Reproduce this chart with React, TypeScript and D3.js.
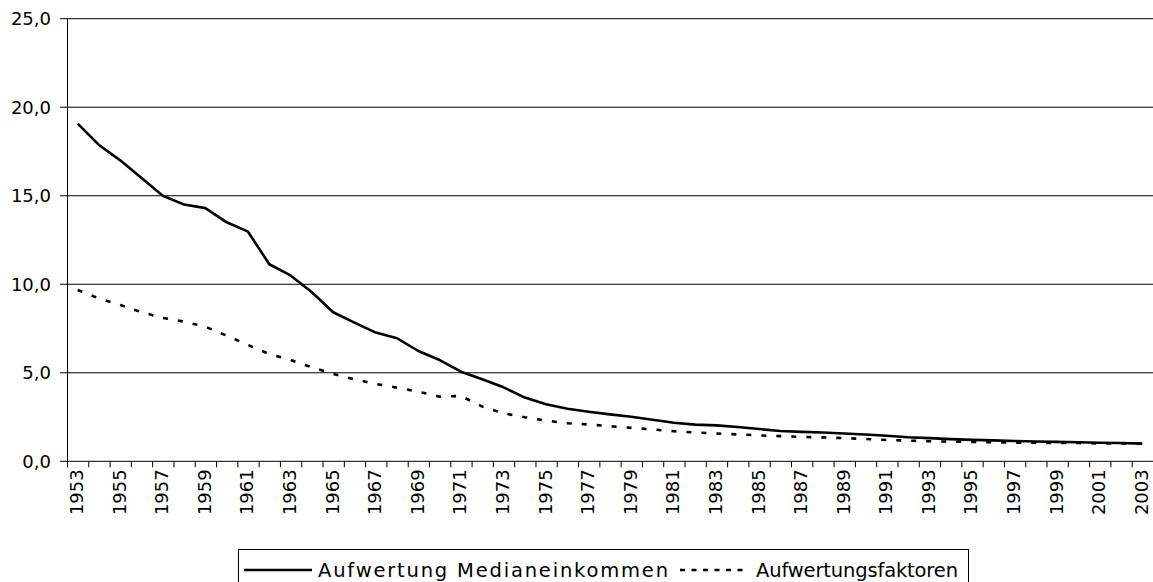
import React from "react";
import * as d3 from "d3";

const years: number[] = [];
for (let y = 1953; y <= 2003; y++) years.push(y);

const medianValues = [
  19.07, 17.87, 17.0, 16.0, 15.0, 14.5, 14.3, 13.5, 12.97, 11.13,
  10.5, 9.55, 8.42, 7.83, 7.27, 6.95, 6.23, 5.72, 5.06, 4.63,
  4.18, 3.6, 3.22, 2.97, 2.8, 2.65, 2.52, 2.35, 2.18, 2.07,
  2.03, 1.94, 1.82, 1.71, 1.66, 1.63, 1.57, 1.51, 1.44, 1.36,
  1.31, 1.25, 1.21, 1.18, 1.15, 1.12, 1.1, 1.08, 1.05, 1.03,
  1.0,
];

const faktorValues = [
  9.68, 9.2, 8.83, 8.42, 8.1, 7.89, 7.6, 7.1, 6.57, 6.06,
  5.72, 5.31, 4.93, 4.63, 4.37, 4.16, 3.93, 3.65, 3.69, 3.09,
  2.71, 2.49, 2.3, 2.15, 2.08, 1.98, 1.89, 1.8, 1.7, 1.63,
  1.57, 1.52, 1.46, 1.42, 1.38, 1.35, 1.31, 1.26, 1.2, 1.17,
  1.13, 1.11, 1.09, 1.07, 1.05, 1.05, 1.03, 1.03, 1.01, 1.01,
  1.0,
];

const yTicks = [0, 5, 10, 15, 20, 25];
const legendLabels = ["Aufwertung Medianeinkommen", "Aufwertungsfaktoren"];

const W = 1153;
const H = 582;
const FONT = "'DejaVu Sans', sans-serif";

export default function App() {
  const left = 67;
  const right = 1153;
  const top = 18.7;
  const bottom = 461.3;

  const x = d3
    .scaleBand<number>()
    .domain(years)
    .range([left, right])
    .paddingInner(0)
    .paddingOuter(0);
  const y = d3.scaleLinear().domain([0, 25]).range([bottom, top]);
  const cx = (yr: number) => (x(yr) as number) + x.bandwidth() / 2;

  const line = d3
    .line<number>()
    .x((_, i) => cx(years[i]))
    .y((d) => y(d));

  const fmt = (v: number) => v.toFixed(1).replace(".", ",");

  return (
    <svg
      width={W}
      height={H}
      style={{ position: "absolute", left: 0, top: 0, background: "#fff" }}
      fontFamily={FONT}
    >
      <rect x={0} y={0} width={W} height={H} fill="#fff" />
      {yTicks.map((t) => (
        <g key={t}>
          <line x1={60} x2={right} y1={y(t)} y2={y(t)} stroke="#000" strokeWidth={1} />
          <text
            x={51}
            y={y(t)}
            dy="0.36em"
            textAnchor="end"
            fontSize={18}
            fill="#000"
          >
            {fmt(t)}
          </text>
        </g>
      ))}
      <line x1={left + 0.5} x2={left + 0.5} y1={top} y2={bottom} stroke="#000" strokeWidth={1} />
      {years.map((yr) => (
        <line
          key={"t" + yr}
          x1={(x(yr) as number) + 0.5}
          x2={(x(yr) as number) + 0.5}
          y1={bottom}
          y2={bottom + 6}
          stroke="#000"
          strokeWidth={1}
        />
      ))}
      {years
        .filter((yr) => (yr - 1953) % 2 === 0)
        .map((yr) => (
          <text
            key={"l" + yr}
            transform={`translate(${cx(yr) - 1},${bottom + 8}) rotate(-90)`}
            textAnchor="end"
            dy="0.36em"
            fontSize={18}
            fill="#000"
          >
            {yr}
          </text>
        ))}
      <path d={line(faktorValues) || ""} fill="none" stroke="#000" strokeWidth={2.6} strokeDasharray="5,10" />
      <path d={line(medianValues) || ""} fill="none" stroke="#000" strokeWidth={2.6} strokeLinejoin="round" />
      <rect x={238.5} y={549.5} width={730} height={40} fill="#fff" stroke="#000" strokeWidth={1} />
      <line x1={244} x2={312} y1={570} y2={570} stroke="#000" strokeWidth={2.6} />
      <text
        x={318}
        y={570}
        dy="0.36em"
        fontSize={19.5}
        fill="#000"
        textLength={350}
        lengthAdjust="spacing"
      >
        {legendLabels[0]}
      </text>
      <line x1={680} x2={748} y1={570} y2={570} stroke="#000" strokeWidth={2.6} strokeDasharray="5,6.5" />
      <text
        x={756}
        y={570}
        dy="0.36em"
        fontSize={19.5}
        fill="#000"
        textLength={202}
        lengthAdjust="spacing"
      >
        {legendLabels[1]}
      </text>
    </svg>
  );
}
